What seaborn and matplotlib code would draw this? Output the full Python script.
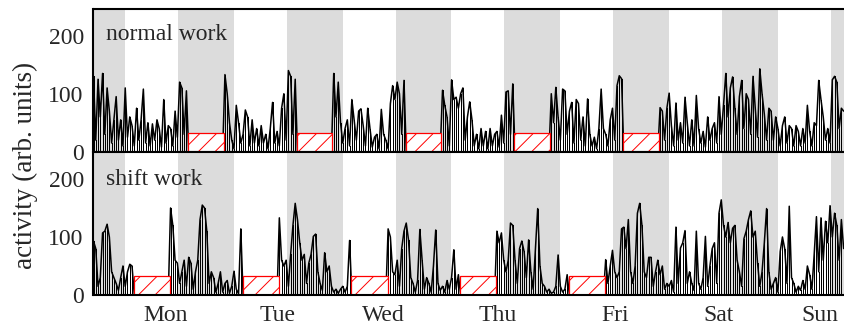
import numpy as np
import pandas as pd
import matplotlib
matplotlib.use("Agg")
import matplotlib.pyplot as plt
import seaborn as sns

# ---------------- data (half-hour samples starting Sun 12:00 = hour -12) ----------------
start_hour = -12.0
sample_step = 0.5

normal_work = [
    # Sun 12:00-24:00
    130, 20, 125, 60, 135, 30, 110, 70, 15, 55, 95, 20, 55, 10, 110, 25, 60, 45, 10, 75, 20, 55, 108, 15,
    # Mon
    50, 10, 48, 20, 55, 40, 8, 90, 15, 45, 40, 10, 70, 25, 120, 110, 30, 105,
    0, 0, 0, 0, 0, 0, 0, 0, 0, 0, 0, 0, 0, 0, 0, 0,
    133, 100, 50, 20, 5, 80, 50, 15, 30, 72, 60, 10, 55, 15,
    # Tue
    40, 10, 45, 15, 30, 5, 40, 85, 15, 35, 10, 75, 100, 20, 140, 130, 30, 125,
    0, 0, 0, 0, 0, 0, 0, 0, 0, 0, 0, 0, 0, 0, 0, 0,
    135, 60, 120, 50, 15, 40, 55, 10, 90, 55, 20, 70, 74, 45,
    # Wed
    10, 75, 40, 8, 25, 30, 5, 73, 30, 20, 5, 83, 114, 90, 120, 100, 30, 123,
    0, 0, 0, 0, 0, 0, 0, 0, 0, 0, 0, 0, 0, 0, 0, 0,
    106, 80, 60, 10, 124, 90, 94, 75, 100, 110, 20, 60, 86, 55,
    # Thu
    10, 30, 5, 40, 10, 35, 5, 40, 10, 30, 35, 8, 63, 15, 103, 105, 30, 117,
    0, 0, 0, 0, 0, 0, 0, 0, 0, 0, 0, 0, 0, 0, 0, 0,
    100, 50, 111, 60, 20, 108, 105, 30, 70, 85, 15, 90, 83, 20,
    # Fri
    60, 10, 91, 30, 10, 25, 5, 40, 108, 40, 30, 10, 55, 75, 20, 114, 131, 126,
    0, 0, 0, 0, 0, 0, 0, 0, 0, 0, 0, 0, 0, 0, 0, 0,
    76, 70, 20, 75, 101, 45, 10, 84, 20, 50, 15, 94, 50, 10,
    # Sat
    55, 10, 97, 40, 15, 35, 8, 60, 20, 40,
    50, 15, 95, 30, 80, 135, 60, 110, 129, 75,
    30, 95, 123, 40, 100, 90, 30, 130, 75, 25,
    143, 100, 65, 20, 75, 70, 20, 60, 40, 10,
    45, 60, 15, 45, 40, 10, 45, 35,
    # Sun
    10, 40, 15, 80, 35, 10, 50, 45, 123, 90, 60, 20, 40, 15, 124, 130, 120, 40, 75, 70,
]

shift_work = [
    # Sun 12:00-24:00
    93, 80, 15, 30, 107, 110, 122, 100, 40, 30, 20, 8, 30, 50, 15, 40, 53, 50, 0, 0, 0, 0, 0, 0,
    # Mon
    0, 0, 0, 0, 0, 0, 0, 0, 0, 0,
    150, 120, 60, 55, 20, 40, 60, 15, 65, 55, 10, 40, 60, 130, 155, 150,
    110, 20, 40, 30, 5, 20, 40, 5, 20, 25, 3, 15, 41, 10, 2, 114,
    0, 0, 0, 0, 0, 0,
    # Tue
    0, 0, 0, 0, 0, 0, 0, 0, 0, 0,
    133, 60, 50, 60, 15, 70, 120, 158, 130, 90, 60, 70, 20, 55, 70, 101,
    105, 40, 20, 8, 73, 40, 50, 15, 5, 10, 3, 10, 15, 5, 15, 94,
    0, 0, 0, 0, 0, 0,
    # Wed
    0, 0, 0, 0, 0, 0, 0, 0, 0, 0,
    114, 100, 40, 35, 60, 15, 80, 110, 124, 95, 30, 20, 5, 25, 113, 60,
    10, 30, 20, 5, 50, 112, 20, 8, 15, 5, 25, 10, 30, 78, 10, 35,
    0, 0, 0, 0, 0, 0,
    # Thu
    0, 0, 0, 0, 0, 0, 0, 0, 0, 0,
    110, 90, 107, 60, 40, 60, 124, 120, 60, 20, 80, 93, 75, 30, 95, 40,
    10, 80, 149, 50, 20, 15, 5, 10, 3, 5, 15, 69, 15, 5, 10, 35,
    0, 0, 0, 0, 0, 0,
    # Fri
    0, 0, 0, 0, 0, 0, 0, 0, 0, 0,
    61, 20, 50, 77, 40, 30, 40, 114, 117, 80,
    130, 40, 20, 50, 141, 158, 120, 40, 30, 65,
    65, 15, 40, 60, 35, 50, 10, 20, 15, 25,
    5, 117, 20, 81, 90, 111, 20, 40,
    # Sat
    20, 8, 110, 20, 10, 30, 101, 15, 50, 80,
    90, 20, 141, 164, 120, 100, 125, 90, 115, 120,
    60, 40, 15, 97, 110, 130, 145, 100, 110, 55,
    15, 40, 90, 149, 40, 10, 20, 30, 5, 75,
    100, 80, 20, 153, 30, 20, 5, 15,
    # Sun
    8, 25, 10, 50, 35, 10, 70, 135, 40, 133, 60, 127, 90, 154, 100, 141, 120, 60, 130, 80,
]

panel_titles = ["normal work", "shift work"]
day_labels = ["Mon", "Tue", "Wed", "Thu", "Fri", "Sat", "Sun"]
day_label_hours = [3.9, 28.5, 52.0, 77.2, 103.2, 126.0, 148.3]
y_ticks = [0, 100, 200]

light_on_hour = 6.65
light_off_hour = 18.95
normal_work_start = 8.85
normal_work_length = 7.85
shift_work_start = -3.1
shift_work_length = 8.0
work_days = [0, 1, 2, 3, 4]
work_box_height = 32

# ---------------- style ----------------
sns.set_style("white")
plt.rcParams["font.family"] = ["Liberation Serif", "DejaVu Serif"]
plt.rcParams["hatch.color"] = "red"
plt.rcParams["hatch.linewidth"] = 0.7

W, H = 845, 329
fig = plt.figure(figsize=(W / 100, H / 100), dpi=100)

left_px, right_px = 93.5, 845.0
panels_px = [(8.5, 151.7), (151.7, 295.0)]
x_lim = (-12.0, 153.8)
y_lim = (0, 247)
fs = 17

hours = start_hour + sample_step * np.arange(len(normal_work))
series = [normal_work, shift_work]
work_starts = [[24 * d + normal_work_start for d in work_days],
               [24 * d + shift_work_start for d in work_days]]
work_lengths = [normal_work_length, shift_work_length]

axes = []
for k in range(2):
    top_px, bot_px = panels_px[k]
    ax = fig.add_axes([left_px / W, 1 - bot_px / H, (right_px - left_px) / W, (bot_px - top_px) / H])
    axes.append(ax)
    # light period shading
    for d in range(-1, 7):
        ax.axvspan(24 * d + light_on_hour, 24 * d + light_off_hour, color="#dcdcdc", lw=0, zorder=0)
    df = pd.DataFrame({"hour": hours, "activity": series[k]})
    # thin needle for every sample plus the connecting trace
    ax.vlines(df["hour"], 0, df["activity"], color="black", lw=0.7, antialiased=False, zorder=2)
    sns.lineplot(data=df, x="hour", y="activity", ax=ax, color="black", lw=1.1,
                 estimator=None, zorder=2)
    ax.bar(work_starts[k], work_box_height, width=work_lengths[k], align="edge",
           facecolor="white", edgecolor="red", hatch="//", lw=0.9, zorder=3)
    ax.set_xlim(*x_lim)
    ax.set_ylim(*y_lim)
    ax.set_xlabel("")
    ax.set_ylabel("")
    ax.set_yticks(y_ticks)
    ax.tick_params(axis="both", length=0, labelsize=fs)
    ax.tick_params(axis="y", pad=7)
    for s in ["left", "top", "bottom"]:
        ax.spines[s].set_visible(True)
        ax.spines[s].set_linewidth(1.5)
        ax.spines[s].set_color("black")
        ax.spines[s].set_zorder(6)
    ax.spines["right"].set_visible(False)
    ax.text(0.017, 0.78 if k == 0 else 0.768, panel_titles[k], transform=ax.transAxes,
            fontsize=fs, va="baseline", ha="left", zorder=5)
    ax.grid(False)

axes[0].set_xticks([])
axes[1].set_xticks(day_label_hours)
axes[1].set_xticklabels(day_labels)
axes[1].tick_params(axis="x", pad=7)

fig.text(25 / W, 1 - 165 / H, "activity (arb. units)", rotation=90, fontsize=19.5,
         ha="center", va="center")

fig.savefig("out.png", dpi=100)
